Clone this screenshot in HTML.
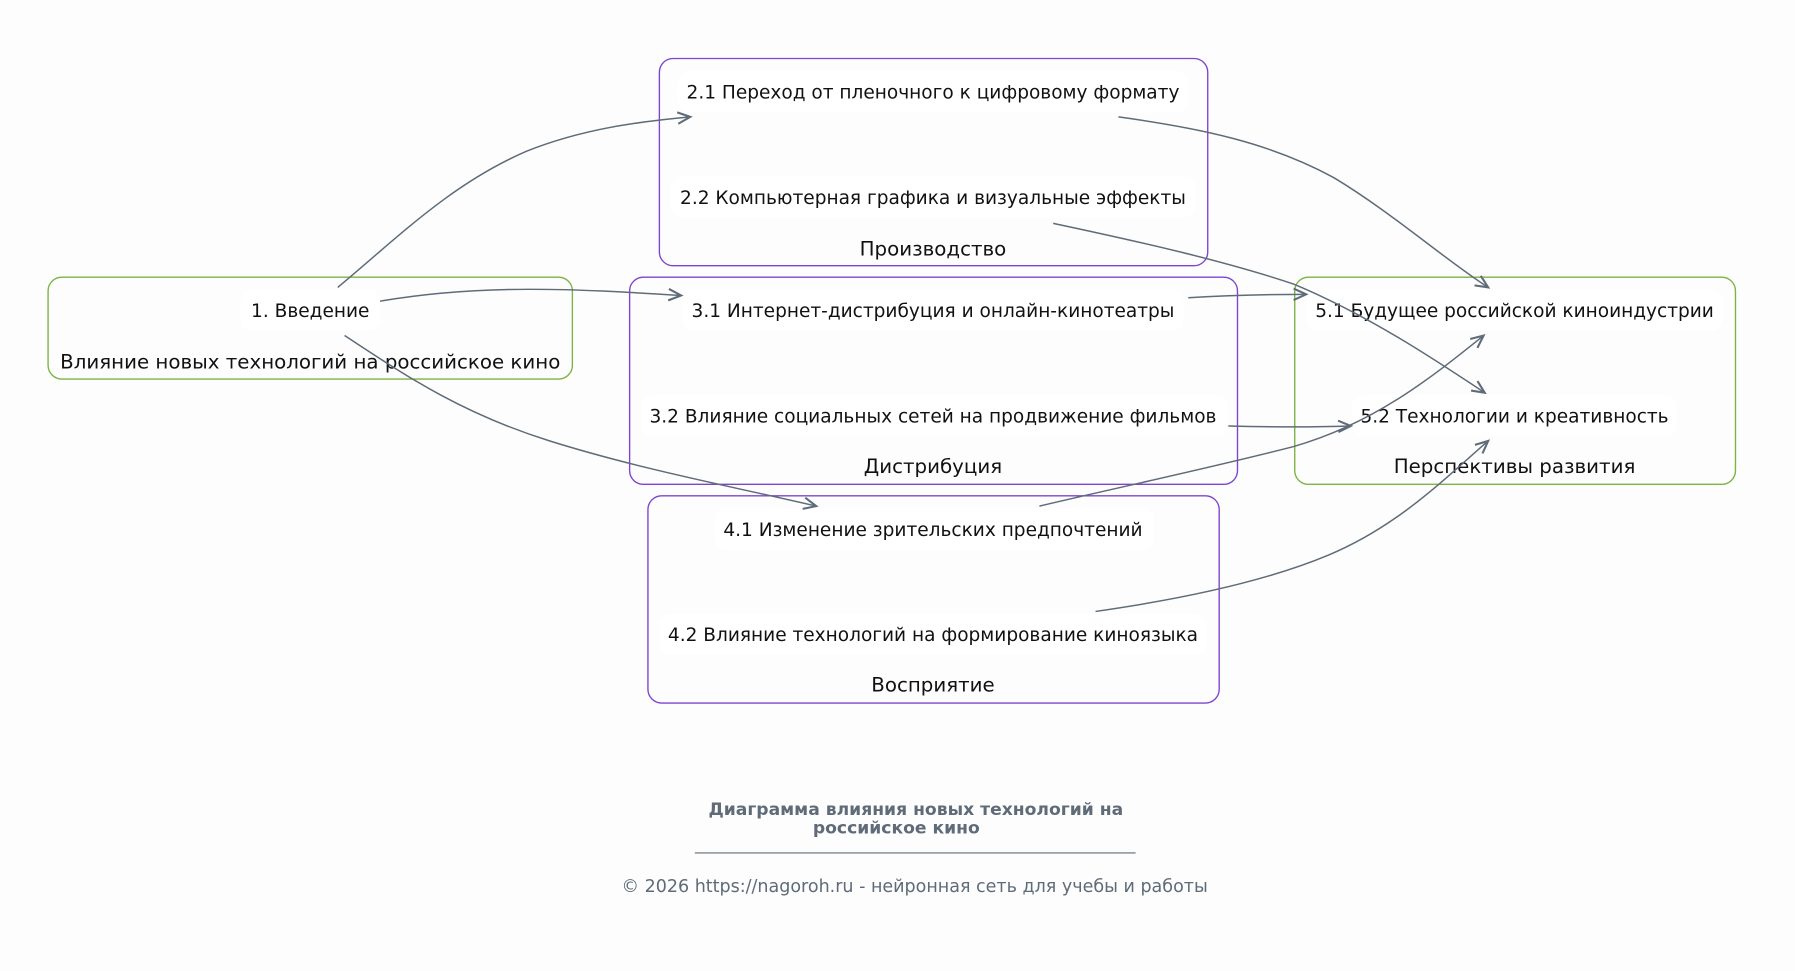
<!DOCTYPE html>
<html><head><meta charset="utf-8"><style>
html,body{margin:0;padding:0;background:#fdfdfd;}
svg{display:block;}
text{font-family:"DejaVu Sans","Liberation Sans",sans-serif;}
</style></head><body>
<svg width="1795" height="971" viewBox="0 0 1568 848" xmlns="http://www.w3.org/2000/svg">
<defs>
<marker id="a" markerWidth="14" markerHeight="12" refX="12" refY="6" orient="auto" markerUnits="userSpaceOnUse">
<polyline points="1,1 12,6 1,11" fill="none" stroke="#5f6b78" stroke-width="1.8"/>
</marker>
</defs>
<rect width="1568" height="848" fill="#fdfdfd"/>
<g fill="none" stroke-width="1.2">
<rect x="42" y="242" width="458" height="89" rx="12" stroke="#7cb342"/>
<rect x="1131" y="242" width="385" height="181" rx="12" stroke="#7cb342"/>
<rect x="576" y="51" width="479" height="181" rx="12" stroke="#7e44d0"/>
<rect x="550" y="242" width="531" height="181" rx="12" stroke="#7e44d0"/>
<rect x="566" y="433" width="499" height="181" rx="12" stroke="#7e44d0"/>
</g>
<g fill="#ffffff">
<rect x="210" y="253" width="122" height="36" rx="10"/>
<rect x="592" y="62" width="446" height="36" rx="10"/>
<rect x="586" y="154" width="458" height="36" rx="10"/>
<rect x="596" y="253" width="438" height="36" rx="10"/>
<rect x="560" y="345" width="512" height="36" rx="10"/>
<rect x="624" y="444" width="384" height="36" rx="10"/>
<rect x="576" y="536" width="478" height="36" rx="10"/>
<rect x="1141" y="253" width="364" height="36" rx="10"/>
<rect x="1181" y="345" width="284" height="36" rx="10"/>
</g>
<g font-size="16.2" fill="#111" text-anchor="middle">
<text x="271" y="277">1. Введение</text>
<text x="815" y="86">2.1 Переход от пленочного к цифровому формату</text>
<text x="815" y="178">2.2 Компьютерная графика и визуальные эффекты</text>
<text x="815" y="277">3.1 Интернет-дистрибуция и онлайн-кинотеатры</text>
<text x="815" y="369">3.2 Влияние социальных сетей на продвижение фильмов</text>
<text x="815" y="468">4.1 Изменение зрительских предпочтений</text>
<text x="815" y="560">4.2 Влияние технологий на формирование киноязыка</text>
<text x="1323" y="277">5.1 Будущее российской киноиндустрии</text>
<text x="1323" y="369">5.2 Технологии и креативность</text>
</g>
<g font-size="17.3" fill="#111" text-anchor="middle">
<text x="271" y="322">Влияние новых технологий на российское кино</text>
<text x="815" y="223">Производство</text>
<text x="815" y="413">Дистрибуция</text>
<text x="815" y="604">Восприятие</text>
<text x="1323" y="413">Перспективы развития</text>
</g>
<g fill="none" stroke="#5f6b78" stroke-width="1.3" marker-end="url(#a)">
<path d="M295,251 C350,205 395,160 460,132 C510,112 560,106 603,102"/>
<path d="M977,102 C1050,112 1110,125 1165,155 C1215,185 1260,225 1300,251"/>
<path d="M920,195 C1000,212 1070,228 1130,248 C1195,275 1255,315 1297,343"/>
<path d="M332,263 C420,248 500,252 595,258"/>
<path d="M1038,260 C1070,258 1100,257 1141,257"/>
<path d="M301,293 C350,325 400,360 480,385 C560,410 640,425 713,442"/>
<path d="M1073,372 C1110,373 1150,373 1180,372"/>
<path d="M908,442 C980,425 1060,408 1130,390 C1200,370 1250,330 1296,293"/>
<path d="M957,534 C1020,525 1100,510 1160,485 C1220,460 1260,420 1300,385"/>
</g>
<g font-size="15" font-weight="bold" fill="#5f6b78" text-anchor="middle">
<text x="800" y="712">Диаграмма влияния новых технологий на</text>
<text x="783" y="728">российское кино</text>
</g>
<line x1="607" y1="745" x2="992" y2="745" stroke="#5f6b78" stroke-width="1"/>
<text x="799" y="779" font-size="15.3" fill="#5f6b78" text-anchor="middle">© 2026 https://nagoroh.ru - нейронная сеть для учебы и работы</text>
</svg>
</body></html>
